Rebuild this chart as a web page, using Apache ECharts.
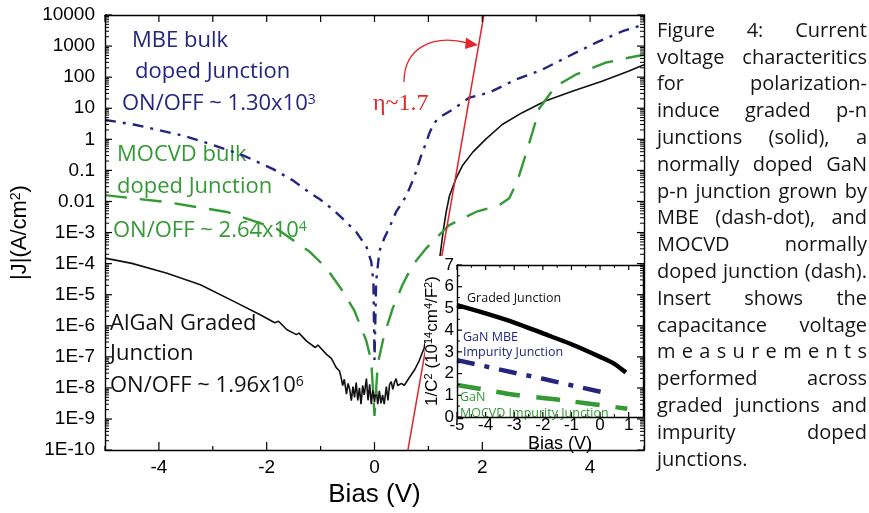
<!DOCTYPE html>
<html><head><meta charset="utf-8">
<script src="https://cdn.jsdelivr.net/npm/echarts@6/dist/echarts.min.js"></script>
<style>html,body{margin:0;padding:0;background:#fff}#c{width:869px;height:513px;background:#fff}</style>
</head><body><div id="c"></div>
<script>
// ---------- data ----------
const gradedBias = [-5, -4.5, -3.85, -3.23, -2.62, -2.13, -1.85, -1.78, -1.63, -1.45, -1.4, -1.26, -1.1, -1.05, -0.89, -0.8, -0.71, -0.65, -0.62, -0.59, -0.56, -0.52, -0.49, -0.46, -0.43, -0.4, -0.37, -0.34, -0.31, -0.28, -0.25, -0.22, -0.19, -0.15, -0.12, -0.09, -0.06, -0.03, 0, 0.03, 0.06, 0.09, 0.12, 0.15, 0.18, 0.22, 0.25, 0.28, 0.31, 0.34, 0.37, 0.4, 0.43, 0.46, 0.5, 0.55, 0.65, 0.75, 0.83, 0.92, 1.0, 1.1, 1.18, 1.23, 1.28, 1.33, 1.39, 1.51, 1.63, 1.82, 2.06, 2.37, 2.74, 3.17, 3.67, 4.22, 4.71, 5.0];
const gradedJ = [1.5e-4, 1.02e-4, 4.9e-5, 2.1e-5, 6.2e-6, 2.3e-6, 1.25e-6, 1.4e-6, 7.6e-7, 5.2e-7, 5.8e-7, 3.2e-7, 2.0e-7, 2.4e-7, 1.2e-7, 9e-8, 4.5e-8, 3.5e-8, 2.2e-8, 1.2e-8, 1.9e-8, 6.3e-9, 1.4e-8, 9e-9, 3.9e-9, 1.1e-8, 5e-9, 1.5e-8, 4e-9, 1.0e-8, 3e-9, 1.2e-8, 6e-9, 2.0e-8, 4e-9, 1.3e-8, 3e-9, 9e-9, 3.5e-9, 1.0e-8, 3e-9, 8e-9, 3.2e-9, 6e-9, 3e-9, 1.1e-8, 4e-9, 1.3e-8, 1.6e-8, 9e-9, 1.5e-8, 2.0e-8, 1.2e-8, 1.1e-8, 1.4e-8, 1.2e-8, 2.2e-8, 4e-8, 7.6e-8, 1.9e-7, 1e-6, 1e-5, 6.3e-5, 2.8e-4, 1.3e-3, 4.6e-3, 1.5e-2, 5.4e-2, 0.14, 0.38, 1.0, 3.0, 7.2, 17, 35, 74, 155, 250];

const mbeBias = [-5, -4.47, -3.54, -3.05, -2.43, -1.88, -1.51, -1.2, -1.02, -0.77, -0.59, -0.34, -0.15, -0.06, -0.02, 0, 0.03, 0.09, 0.18, 0.28, 0.4, 0.59, 0.74, 0.85, 0.96, 1.02, 1.1, 1.2, 1.45, 1.76, 2.13, 2.62, 3.11, 3.6, 4.1, 4.59, 5.0];
const mbeJ = [4.2, 3.0, 1.3, 0.71, 0.30, 0.11, 0.047, 0.019, 0.012, 5.5e-3, 2.8e-3, 1.05e-3, 3.5e-4, 1.15e-4, 2.5e-5, 8e-8, 2.5e-5, 2.5e-4, 6.5e-4, 1.5e-3, 4.6e-3, 0.015, 0.063, 0.25, 0.8, 1.6, 3.2, 5.0, 9.1, 22, 32, 83, 174, 470, 1260, 2950, 5000];

const mocvdBias = [-5, -3.85, -2.74, -1.82, -1.2, -0.89, -0.59, -0.37, -0.15, -0.06, 0, 0.06, 0.18, 0.34, 0.52, 0.71, 0.96, 1.14, 1.38, 1.88, 2.31, 2.5, 2.65, 2.8, 2.93, 3.06, 3.36, 3.73, 4.28, 4.71, 5.0];
const mocvdJ = [0.016, 9.5e-3, 4.6e-3, 1.35e-3, 2.4e-4, 7.1e-5, 1.3e-5, 3.0e-6, 3.2e-7, 7.4e-8, 1.25e-9, 5.8e-8, 5.2e-7, 3.7e-6, 2.1e-5, 9.1e-5, 3.1e-4, 6.5e-4, 1.7e-3, 4.6e-3, 7.6e-3, 0.0126, 0.045, 0.3, 1.66, 10, 51, 120, 290, 420, 525];

const fitBias = [0.62, 2.03];
const fitJ = [1e-10, 1e4];

const insetGradedBias = [-5, -4, -3, -2, -1, 0, 0.5, 0.9];
const insetGraded = [5.15, 4.77, 4.35, 3.85, 3.35, 2.77, 2.45, 2.05];
const insetMbeBias = [-5, -4, -3, -2, -1, 0.07];
const insetMbe = [2.62, 2.33, 2.04, 1.76, 1.46, 1.15];
const insetMocvdBias = [-5, -4, -3, -2, -1, 0, 0.95];
const insetMocvd = [1.47, 1.25, 1.02, 0.88, 0.72, 0.55, 0.38];

// tick values and labels
const yTickValues = [1e-10, 1e-9, 1e-8, 1e-7, 1e-6, 1e-5, 1e-4, 1e-3, 0.01, 0.1, 1, 10, 100, 1000, 10000];
const yTickLabels = ['1E-10', '1E-9', '1E-8', '1E-7', '1E-6', '1E-5', '1E-4', '1E-3', '0.01', '0.1', '1', '10', '100', '1000', '10000'];
const xLabelValues = [-4, -2, 0, 2, 4];
const xTickValues = [-5, -4, -3, -2, -1, 0, 1, 2, 3, 4, 5];
const insetXLabelValues = [-5, -4, -3, -2, -1, 0, 1];
const insetXMinor = [-4.5, -3.5, -2.5, -1.5, -0.5, 0.5];
const insetYValues = [0, 1, 2, 3, 4, 5, 6, 7];
const insetYMinor = [0.5, 1.5, 2.5, 3.5, 4.5, 5.5, 6.5];

const captionLines = [
  'Figure 4: Current', 'voltage characteritics', 'for polarization-', 'induce graded p-n',
  'junctions (solid), a', 'normally doped GaN', 'p-n junction grown by', 'MBE (dash-dot), and',
  'MOCVD normally', 'doped junction (dash).', 'Insert shows the', 'capacitance voltage',
  'm e a s u r e m e n t s', 'performed across', 'graded junctions and', 'impurity doped', 'junctions.'
];

// ---------- helpers ----------
const zip = (a, b) => a.map((v, i) => [v, b[i]]);
const minorLog = [];
for (let d = -10; d < 4; d++) for (let k = 2; k <= 9; k++) minorLog.push(+(k * Math.pow(10, d)).toPrecision(3));

const NAVY = '#25257f', GREEN = '#349a35', RED = '#e2272b';
const AX = { show: true, onZero: false, lineStyle: { color: '#000', width: 1.4 } };
const NOTICK = { show: false };
const TICKFONT = 'Liberation Sans';

// tick items: [x, y, side(0 bottom,1 top,2 left,3 right), length, width]
const mainTicks = [];
xTickValues.forEach(v => {
  mainTicks.push([v, 1, 0, xLabelValues.includes(v) ? 8 : 4, 1.2]);
  mainTicks.push([v, 1, 1, 7, 1.2]);
});
yTickValues.forEach(v => { mainTicks.push([0, v, 2, 7, 1.2]); mainTicks.push([0, v, 3, 7, 1.2]); });
minorLog.forEach(v => { mainTicks.push([0, v, 2, 4, 1]); mainTicks.push([0, v, 3, 4, 1]); });

const insetTicks = [];
insetXLabelValues.forEach(v => { insetTicks.push([v, 0, 0, 5, 1.2]); insetTicks.push([v, 0, 1, 5, 1.2]); });
insetXMinor.forEach(v => { insetTicks.push([v, 0, 0, 3, 1]); insetTicks.push([v, 0, 1, 3, 1]); });
insetYValues.forEach(v => insetTicks.push([-5, v, 2, 5, 1.2]));
insetYMinor.forEach(v => insetTicks.push([-5, v, 2, 3, 1]));

function renderTick(params, api) {
  const cs = params.coordSys;
  const p = api.coord([api.value(0), api.value(1)]);
  const side = api.value(2), len = api.value(3), w = api.value(4);
  let a, b;
  if (side === 0) { const y = cs.y + cs.height; a = [p[0], y]; b = [p[0], y - len]; }
  else if (side === 1) { a = [p[0], cs.y]; b = [p[0], cs.y + len]; }
  else if (side === 2) { a = [cs.x, p[1]]; b = [cs.x + len, p[1]]; }
  else { const x = cs.x + cs.width; a = [x, p[1]]; b = [x - len, p[1]]; }
  return { type: 'polyline', shape: { points: [a, b] }, style: { stroke: '#000', lineWidth: w, fill: null } };
}

const chart = echarts.init(document.getElementById('c'), null, { renderer: 'canvas' });

// graphic elements
const g = [];
g.push({ type: 'rect', z: 4, shape: { x: 425, y: 256, width: 217, height: 194 }, style: { fill: '#fff' } });

const ann = (x, y, text, color, size, family) => ({
  type: 'text', z: 3, x, y,
  style: {
    text, fill: color, font: size + 'px "' + (family || 'Open Sans') + '"',
    align: 'left', verticalAlign: 'middle',
    rich: { s: { fontSize: Math.round(size * 0.62), fontFamily: family || 'Open Sans', fill: color, verticalAlign: 'top' } }
  }
});
g.push(ann(132, 41, 'MBE bulk', NAVY, 22));
g.push(ann(135, 72, 'doped Junction', NAVY, 22));
g.push(ann(122, 104, 'ON/OFF ~ 1.30x10{s|3}', NAVY, 22));
g.push(ann(117, 155, 'MOCVD bulk', GREEN, 22));
g.push(ann(117, 187, 'doped Junction', GREEN, 22));
g.push(ann(113, 231, 'ON/OFF ~ 2.64x10{s|4}', GREEN, 22));
g.push(ann(110, 324, 'AlGaN Graded', '#111', 22));
g.push(ann(110, 354, 'Junction', '#111', 22));
g.push(ann(110, 386, 'ON/OFF ~ 1.96x10{s|6}', '#111', 22));
g.push(ann(373, 104, 'η~1.7', RED, 24, 'Liberation Serif'));

// inset annotations
const iann = (x, y, text, color) => Object.assign(ann(x, y, text, color, 12.5), { z: 12 });
g.push(iann(467, 298, 'Graded Junction', '#111'));
g.push(iann(463, 337, 'GaN MBE', NAVY));
g.push(iann(463, 352, 'Impurity Junction', NAVY));
g.push(iann(460, 397, 'GaN', GREEN));
g.push(iann(460, 413, 'MOCVD Impurity Junction', GREEN));

// red curved arrow
g.push({ type: 'bezierCurve', z: 3, shape: { x1: 404, y1: 82, cpx1: 404, cpy1: 48, cpx2: 432, cpy2: 34, x2: 468, y2: 43 },
  style: { stroke: RED, lineWidth: 1.3, fill: null } });
g.push({ type: 'polygon', z: 3, shape: { points: [[478, 45], [466, 37.5], [465, 49]] }, style: { fill: RED } });

// caption (justified)
const capLeft = 657, capRight = 867, capTop = 31, capStep = 26.8;
const capFont = '20px "Open Sans"';
const ctx = document.createElement('canvas').getContext('2d');
ctx.font = capFont;
captionLines.forEach((line, i) => {
  const y = capTop + i * capStep;
  const words = line.split(' ');
  const mk = (x, t) => ({ type: 'text', z: 3, x, y, style: { text: t, font: capFont, fill: '#151515', align: 'left', verticalAlign: 'middle' } });
  if (i === captionLines.length - 1 || words.length === 1) { g.push(mk(capLeft, line)); return; }
  const w = words.map(t => ctx.measureText(t).width);
  const tot = w.reduce((a, b) => a + b, 0);
  const gap = (capRight - capLeft - tot) / (words.length - 1);
  let x = capLeft;
  words.forEach((t, k) => { g.push(mk(x, t)); x += w[k] + gap; });
});

const mainX = (extra) => Object.assign({
  type: 'value', gridIndex: 0, min: -5, max: 5, interval: 1, zlevel: 1, z: 8,
  splitLine: { show: false }, axisLine: AX, axisTick: NOTICK
}, extra);
const mainY = (extra) => Object.assign({
  type: 'log', logBase: 10, gridIndex: 0, min: 1e-10, max: 1e4, zlevel: 1, z: 8,
  splitLine: { show: false }, axisLine: AX, axisTick: NOTICK, minorTick: { show: false }
}, extra);

const option = {
  animation: false,
  grid: [
    { left: 105, right: 225, top: 15, bottom: 60 },
    { left: 457, right: 226, top: 265, bottom: 96 }
  ],
  xAxis: [
    mainX({ position: 'bottom',
      axisLabel: { customValues: xLabelValues, fontSize: 19, fontFamily: TICKFONT, color: '#000', margin: 8 },
      name: 'Bias (V)', nameLocation: 'middle', nameGap: 24,
      nameTextStyle: { fontSize: 26, fontFamily: TICKFONT, color: '#000' } }),
    mainX({ position: 'top', axisLabel: { show: false } }),
    { type: 'value', gridIndex: 1, min: -5, max: 1.5, interval: 1, position: 'bottom', zlevel: 1, z: 11,
      splitLine: { show: false }, axisLine: AX, axisTick: NOTICK, minorTick: { show: false },
      axisLabel: { customValues: insetXLabelValues, fontSize: 17, fontFamily: TICKFONT, color: '#000', margin: 0 },
      name: 'Bias (V)', nameLocation: 'middle', nameGap: 16,
      nameTextStyle: { fontSize: 18, fontFamily: TICKFONT, color: '#000', padding: [0, 0, 0, 20] } },
    { type: 'value', gridIndex: 1, min: -5, max: 1.5, interval: 1, position: 'top', zlevel: 1, z: 11,
      splitLine: { show: false }, axisLine: AX, axisLabel: { show: false }, axisTick: NOTICK, minorTick: { show: false } }
  ],
  yAxis: [
    mainY({ position: 'left',
      axisLabel: { customValues: yTickValues, fontSize: 19, fontFamily: TICKFONT, color: '#000', margin: 10,
        formatter: v => yTickLabels[Math.round(Math.log10(v)) + 10] },
      name: '|J|(A/cm{s|2})', nameLocation: 'middle', nameGap: 64, nameRotate: 90,
      nameTextStyle: { fontSize: 22, fontFamily: TICKFONT, color: '#000',
        rich: { s: { fontSize: 14, fontFamily: TICKFONT, color: '#000', verticalAlign: 'top' } } } }),
    mainY({ position: 'right', axisLabel: { show: false } }),
    { type: 'value', gridIndex: 1, min: 0, max: 7, interval: 1, position: 'left', zlevel: 1, z: 11,
      splitLine: { show: false }, axisLine: AX, axisTick: NOTICK, minorTick: { show: false },
      axisLabel: { fontSize: 17, fontFamily: TICKFONT, color: '#000', margin: 3 },
      name: '1/C{s|2} (10{s|14}cm{s|4}/F{s|2})', nameLocation: 'middle', nameGap: 14, nameRotate: 90,
      nameTextStyle: { fontSize: 17, fontFamily: TICKFONT, color: '#000',
        rich: { s: { fontSize: 11, fontFamily: TICKFONT, color: '#000', verticalAlign: 'top' } } } },
    { type: 'value', gridIndex: 1, min: 0, max: 7, interval: 1, position: 'right', zlevel: 1, z: 11,
      splitLine: { show: false }, axisLine: AX, axisLabel: { show: false }, axisTick: NOTICK }
  ],
  series: [
    { type: 'line', name: 'graded', xAxisIndex: 0, yAxisIndex: 0, data: zip(gradedBias, gradedJ), symbol: 'none',
      lineStyle: { color: '#111', width: 1.6 } },
    { type: 'line', name: 'mbe', xAxisIndex: 0, yAxisIndex: 0, data: zip(mbeBias, mbeJ), symbol: 'none',
      lineStyle: { color: NAVY, width: 2.4, type: [11, 7, 3, 7] } },
    { type: 'line', name: 'mocvd', xAxisIndex: 0, yAxisIndex: 0, data: zip(mocvdBias, mocvdJ), symbol: 'none',
      lineStyle: { color: GREEN, width: 2.4, type: [22, 13] } },
    { type: 'line', name: 'fit', xAxisIndex: 0, yAxisIndex: 0, data: zip(fitBias, fitJ), symbol: 'none',
      lineStyle: { color: RED, width: 1.5 } },
    { type: 'custom', name: 'main ticks', xAxisIndex: 0, yAxisIndex: 0, z: 9, silent: true, clip: false,
      encode: { x: 0, y: 1 }, data: mainTicks, renderItem: renderTick },
    { type: 'line', name: 'inset graded', xAxisIndex: 2, yAxisIndex: 2, z: 10, data: zip(insetGradedBias, insetGraded), symbol: 'none',
      smooth: 0.3, lineStyle: { color: '#000', width: 4.5 } },
    { type: 'line', name: 'inset mbe', xAxisIndex: 2, yAxisIndex: 2, z: 10, data: zip(insetMbeBias, insetMbe), symbol: 'none',
      lineStyle: { color: NAVY, width: 4.5, type: [18, 10, 5, 10] } },
    { type: 'line', name: 'inset mocvd', xAxisIndex: 2, yAxisIndex: 2, z: 10, data: zip(insetMocvdBias, insetMocvd), symbol: 'none',
      smooth: 0.3, lineStyle: { color: GREEN, width: 4.5, type: [24, 16] } },
    { type: 'custom', name: 'inset ticks', xAxisIndex: 2, yAxisIndex: 2, z: 11, silent: true, clip: false,
      encode: { x: 0, y: 1 }, data: insetTicks, renderItem: renderTick }
  ],
  graphic: g
};
chart.setOption(option);
</script>
</body></html>
